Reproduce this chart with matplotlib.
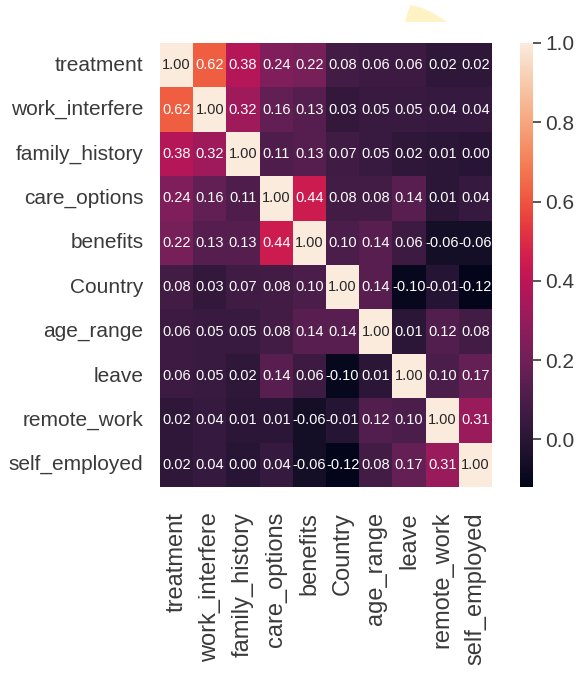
#!/usr/bin/env python

# heatmap.py - correlation matrix of the survey features
import matplotlib
matplotlib.use("Agg")
import matplotlib.pyplot as plt
import matplotlib.font_manager as fm
from matplotlib.patches import Polygon
import numpy as np
import seaborn as sns

features = ["treatment", "work_interfere", "family_history", "care_options",
            "benefits", "Country", "age_range", "leave", "remote_work",
            "self_employed"]

# one row of the correlation matrix per feature
treatment = [1.00, 0.62, 0.38, 0.24, 0.22, 0.08, 0.06, 0.06, 0.02, 0.02]
work_interfere = [0.62, 1.00, 0.32, 0.16, 0.13, 0.03, 0.05, 0.05, 0.04, 0.04]
family_history = [0.38, 0.32, 1.00, 0.11, 0.13, 0.07, 0.05, 0.02, 0.01, 0.00]
care_options = [0.24, 0.16, 0.11, 1.00, 0.44, 0.08, 0.08, 0.14, 0.01, 0.04]
benefits = [0.22, 0.13, 0.13, 0.44, 1.00, 0.10, 0.14, 0.06, -0.06, -0.06]
country = [0.08, 0.03, 0.07, 0.08, 0.10, 1.00, 0.14, -0.10, -0.01, -0.12]
age_range = [0.06, 0.05, 0.05, 0.08, 0.14, 0.14, 1.00, 0.01, 0.12, 0.08]
leave = [0.06, 0.05, 0.02, 0.14, 0.06, -0.10, 0.01, 1.00, 0.10, 0.17]
remote_work = [0.02, 0.04, 0.01, 0.01, -0.06, -0.01, 0.12, 0.10, 1.00, 0.31]
self_employed = [0.02, 0.04, 0.00, 0.04, -0.06, -0.12, 0.08, 0.17, 0.31, 1.00]

cbar_ticks = [0.0, 0.2, 0.4, 0.6, 0.8, 1.0]


def pick_font():
    names = {f.name for f in fm.fontManager.ttflist}
    for name in ["Liberation Sans Narrow", "Liberation Sans", "DejaVu Sans"]:
        if name in names:
            return name
    return "DejaVu Sans"


def main():
    corr = np.array([treatment, work_interfere, family_history, care_options,
                     benefits, country, age_range, leave, remote_work,
                     self_employed])

    font = pick_font()
    plt.rcParams["font.family"] = [font, "DejaVu Sans"]
    label_color = "#3a3a3a"

    W, H = 582, 692
    fig = plt.figure(figsize=(W / 100, H / 100), dpi=100)
    ax = fig.add_axes([160 / W, 1 - 487 / H, 332 / W, 444 / H])
    cax = fig.add_axes([520 / W, 1 - 487 / H, 13 / W, 444 / H])

    sns.heatmap(corr, annot=True, fmt=".2f", cmap="rocket",
                xticklabels=features, yticklabels=features,
                annot_kws={"size": 10.5}, ax=ax, cbar_ax=cax)

    ax.tick_params(axis="both", length=0, colors=label_color)
    ax.tick_params(axis="x", pad=18, labelrotation=90, labelsize=17)
    ax.tick_params(axis="y", pad=12, labelrotation=0, labelsize=15)

    cax.set_yticks(cbar_ticks)
    cax.set_yticklabels([f"{t:.1f}" for t in cbar_ticks])
    cax.tick_params(length=6, width=1.2, pad=3, labelsize=15,
                    colors=label_color)
    for s in cax.spines.values():
        s.set_visible(False)

    # faint yellow wedge at the top edge
    wedge = Polygon([(405 / W, 1 - 22 / H), (410 / W, 1 - 5 / H),
                     (420 / W, 1 - 7 / H), (435 / W, 1 - 14 / H),
                     (447 / W, 1 - 22 / H)], closed=True,
                    transform=fig.transFigure, facecolor="#fff2c4",
                    edgecolor="none", zorder=-1)
    fig.patches.append(wedge)

    fig.savefig("out.png", dpi=100)


if __name__ == "__main__":
    main()
